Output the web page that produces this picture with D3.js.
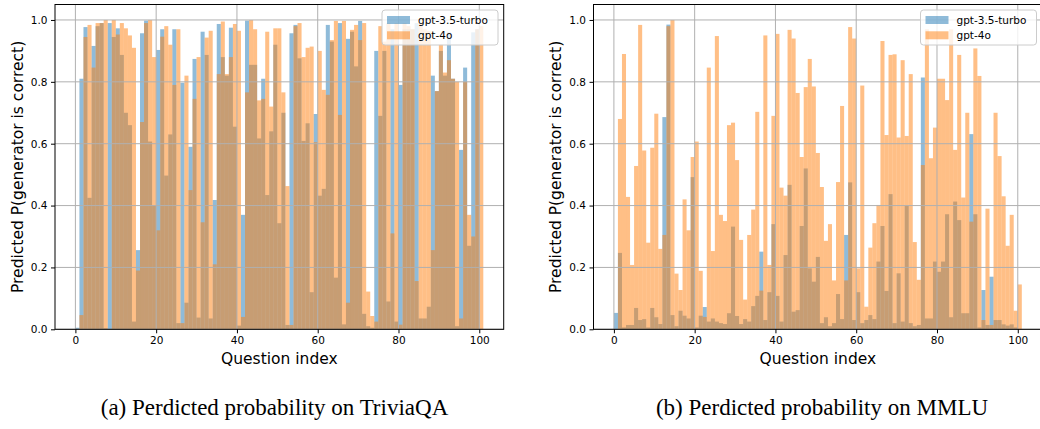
<!DOCTYPE html>
<html>
<head>
<meta charset="utf-8">
<script src="https://cdn.jsdelivr.net/npm/d3@7"></script>
<style>
  html, body { margin: 0; padding: 0; background: #fff; }
  svg { display: block; }
  text { font-family: "DejaVu Sans", sans-serif; fill: #000; }
  .caption { font-family: "Liberation Serif", "Times New Roman", serif; }
</style>
</head>
<body>
<svg id="chart" width="1040" height="429"></svg>
<script>
// Predicted probability that each generator answers question i correctly
const seriesNames = ["gpt-3.5-turbo", "gpt-4o"];
const seriesColors = ["#1f77b4", "#ff7f0e"];

const triviaGpt35 = [
  0.005, 0.81, 0.977, 0.425, 0.916, 0.98, 0.99, 0.003, 0.99, 0.945,
  0.973, 0.887, 0.70, 0.66, 0.025, 0.256, 0.957, 0.998, 0.607, 0.40,
  0.903, 0.97, 0.497, 0.63, 0.97, 0.02, 0.797, 0.086, 0.59, 0.874,
  0.038, 0.962, 0.887, 0.035, 0.418, 0.987, 0.88, 0.82, 0.975, 0.655,
  0.012, 0.37, 0.998, 0.855, 0.855, 0.617, 0.81, 0.434, 0.64, 0.92,
  0.343, 0.70, 0.014, 0.957, 0.984, 0.876, 0.609, 0.666, 0.12, 0.696,
  0.432, 0.454, 0.984, 0.93, 0.167, 0.99, 0.016, 0.939, 0.962, 0.85,
  0.997, 0.05, 0.01, 0.005, 0.90, 0.69, 0.90, 0.09, 0.97, 0.025,
  0.79, 0.97, 0.97, 0.97, 0.99, 0.035, 0.035, 0.073, 0.82, 0.77,
  0.90, 0.82, 0.96, 0.81, 0.01, 0.58, 0.846, 0.27, 0.96, 0.97,
  0.0
];
const triviaGpt4o = [
  0.0, 0.046, 0.945, 0.984, 0.846, 0.99, 0.99, 1.0, 0.0, 1.0,
  0.953, 0.99, 0.973, 0.95, 0.91, 0.19, 0.67, 0.99, 1.0, 0.88,
  0.32, 0.946, 0.98, 0.92, 0.79, 0.97, 0.02, 0.82, 0.45, 0.745,
  0.88, 0.346, 0.943, 0.965, 0.21, 0.825, 0.995, 0.825, 0.88, 0.987,
  0.965, 0.04, 0.766, 1.0, 0.97, 0.74, 0.745, 0.962, 0.72, 0.973,
  0.973, 0.766, 0.463, 0.014, 0.98, 0.99, 0.88, 0.91, 0.914, 0.605,
  0.90, 0.774, 0.758, 0.935, 0.997, 0.693, 0.997, 0.086, 0.968, 0.984,
  0.935, 0.99, 0.122, 0.043, 0.025, 0.98, 0.93, 0.99, 0.31, 0.99,
  0.015, 0.99, 0.98, 0.97, 0.156, 0.99, 0.97, 0.965, 0.256, 0.77,
  0.92, 0.83, 0.87, 0.81, 0.80, 0.035, 0.80, 0.37, 0.30, 0.97,
  0.98
];

const mmluGpt35 = [
  0.053, 0.247, 0.006, 0.014, 0.014, 0.069, 0.03, 0.033, 0.006, 0.069,
  0.039, 0.017, 0.686, 0.985, 0.046, 0.01, 0.06, 0.044, 0.035, 0.492,
  0.006, 0.044, 0.072, 0.025, 0.035, 0.025, 0.02, 0.017, 0.052, 0.332,
  0.043, 0.017, 0.033, 0.025, 0.075, 0.108, 0.251, 0.03, 0.12, 0.34,
  0.108, 0.025, 0.24, 0.467, 0.057, 0.062, 0.334, 0.52, 0.197, 0.154,
  0.234, 0.02, 0.039, 0.01, 0.02, 0.114, 0.033, 0.305, 0.475, 0.03,
  0.12, 0.02, 0.03, 0.046, 0.033, 0.219, 0.334, 0.124, 0.437, 0.02,
  0.181, 0.025, 0.40, 0.02, 0.01, 0.014, 0.814, 0.035, 0.035, 0.219,
  0.186, 0.219, 0.372, 0.039, 0.413, 0.353, 0.052, 0.052, 0.631, 0.372,
  0.006, 0.127, 0.014, 0.17, 0.03, 0.03, 0.016, 0.012, 0.016, 0.006,
  0.0
];
const mmluGpt4o = [
  0.0, 0.68, 0.89, 0.428, 0.208, 0.528, 0.984, 0.578, 0.28, 0.587,
  0.697, 0.26, 0.305, 0.98, 1.0, 0.18, 0.127, 0.42, 0.32, 0.557,
  0.607, 0.189, 0.04, 0.846, 0.253, 0.948, 0.37, 0.35, 0.66, 0.668,
  0.547, 0.289, 0.096, 0.305, 0.387, 0.703, 0.125, 0.95, 0.208, 0.69,
  0.955, 0.458, 0.432, 0.968, 0.94, 0.764, 0.557, 0.783, 0.874, 0.785,
  0.57, 0.46, 0.286, 0.34, 0.158, 0.476, 0.722, 0.158, 0.977, 0.94,
  0.197, 0.788, 0.073, 0.264, 0.343, 0.402, 0.932, 0.628, 0.887, 0.889,
  0.62, 0.87, 0.625, 0.825, 0.282, 0.16, 0.531, 0.97, 0.553, 0.652,
  0.81, 0.81, 0.741, 0.97, 0.58, 0.887, 0.426, 0.70, 0.348, 0.908,
  0.819, 0.03, 0.39, 0.014, 0.70, 0.56, 0.43, 0.27, 0.37, 0.06,
  0.145
];

const xTicks = [0, 20, 40, 60, 80, 100];
const yTicks = [0.0, 0.2, 0.4, 0.6, 0.8, 1.0];
const xLabel = "Question index";
const yLabel = "Predicted P(generator is correct)";
const captions = ["(a) Perdicted probability on TriviaQA", "(b) Perdicted probability on MMLU"];

const panels = [
  { left: 55, series: [triviaGpt35, triviaGpt4o], caption: captions[0], captionX: 274.5 },
  { left: 593.5, series: [mmluGpt35, mmluGpt4o], caption: captions[1], captionX: 822 }
];

const svg = d3.select("#chart");
const plotW = 448.7, plotTop = 4.5, plotBottom = 329.3;
const gridColor = "#b0b0b0";

panels.forEach(p => {
  const n = p.series[0].length;
  const x = d3.scaleLinear().domain([-0.05 * n, n * 1.05]).range([p.left, p.left + plotW]);
  const y = d3.scaleLinear().domain([0, 1.05]).range([plotBottom, plotTop]);
  const g = svg.append("g");

  // bars: each question occupies [i, i+1)
  p.series.forEach((vals, s) => {
    g.append("g")
      .selectAll("rect")
      .data(vals)
      .join("rect")
      .attr("x", (d, i) => x(i))
      .attr("width", x(1) - x(0))
      .attr("y", d => y(d))
      .attr("height", d => y(0) - y(d))
      .attr("fill", seriesColors[s])
      .attr("fill-opacity", 0.5);
  });

  // grid drawn above the bars
  const grid = g.append("g");
  grid.selectAll("line.gx").data(xTicks).join("line")
    .attr("x1", d => x(d)).attr("x2", d => x(d))
    .attr("y1", plotTop).attr("y2", plotBottom)
    .attr("stroke", gridColor).attr("stroke-width", 1);
  grid.selectAll("line.gy").data(yTicks).join("line")
    .attr("y1", d => y(d)).attr("y2", d => y(d))
    .attr("x1", x.range()[0]).attr("x2", x.range()[1])
    .attr("stroke", gridColor).attr("stroke-width", 1);

  // axes
  const xAxis = d3.axisBottom(x).tickValues(xTicks).tickFormat(d3.format("d")).tickSize(4).tickPadding(3.5);
  const yAxis = d3.axisLeft(y).tickValues(yTicks).tickFormat(d3.format(".1f")).tickSize(4).tickPadding(3.5);
  const gx = g.append("g").attr("transform", `translate(0,${plotBottom})`).call(xAxis);
  const gy = g.append("g").attr("transform", `translate(${p.left},0)`).call(yAxis);
  [gx, gy].forEach(ax => {
    ax.select(".domain").remove();
    ax.selectAll("text").style("font-size", "10.5px").style("font-family", "DejaVu Sans");
    ax.selectAll("line").attr("stroke", "#000").attr("stroke-width", 1);
  });

  // frame
  g.append("rect")
    .attr("x", x.range()[0]).attr("y", plotTop)
    .attr("width", plotW).attr("height", plotBottom - plotTop)
    .attr("fill", "none").attr("stroke", "#000").attr("stroke-width", 1);

  // axis labels
  g.append("text")
    .attr("x", p.left + plotW / 2).attr("y", 364)
    .attr("text-anchor", "middle").style("font-size", "15.5px")
    .text(xLabel);
  g.append("text")
    .attr("transform", `translate(${p.left - 37.5},${(plotTop + plotBottom) / 2}) rotate(-90)`)
    .attr("text-anchor", "middle").attr("dominant-baseline", "central")
    .style("font-size", "15.5px")
    .text(yLabel);

  // legend
  const lx = p.left + plotW - 5.7 - 116;
  const lg = g.append("g");
  lg.append("rect")
    .attr("x", lx).attr("y", 10).attr("width", 116).attr("height", 35)
    .attr("rx", 3).attr("fill", "#fff").attr("fill-opacity", 0.8)
    .attr("stroke", "#cccccc").attr("stroke-width", 1);
  seriesNames.forEach((name, s) => {
    const cy = 20 + s * 15.3;
    lg.append("rect")
      .attr("x", lx + 5).attr("y", cy - 4).attr("width", 23).attr("height", 8)
      .attr("fill", seriesColors[s]).attr("fill-opacity", 0.5);
    lg.append("text")
      .attr("x", lx + 36).attr("y", cy).attr("dominant-baseline", "central")
      .style("font-size", "10.5px").text(name);
  });

  // caption
  svg.append("text").attr("class", "caption")
    .attr("x", p.captionX).attr("y", 415)
    .attr("text-anchor", "middle").style("font-size", "23px")
    .text(p.caption);
});
</script>
</body>
</html>
